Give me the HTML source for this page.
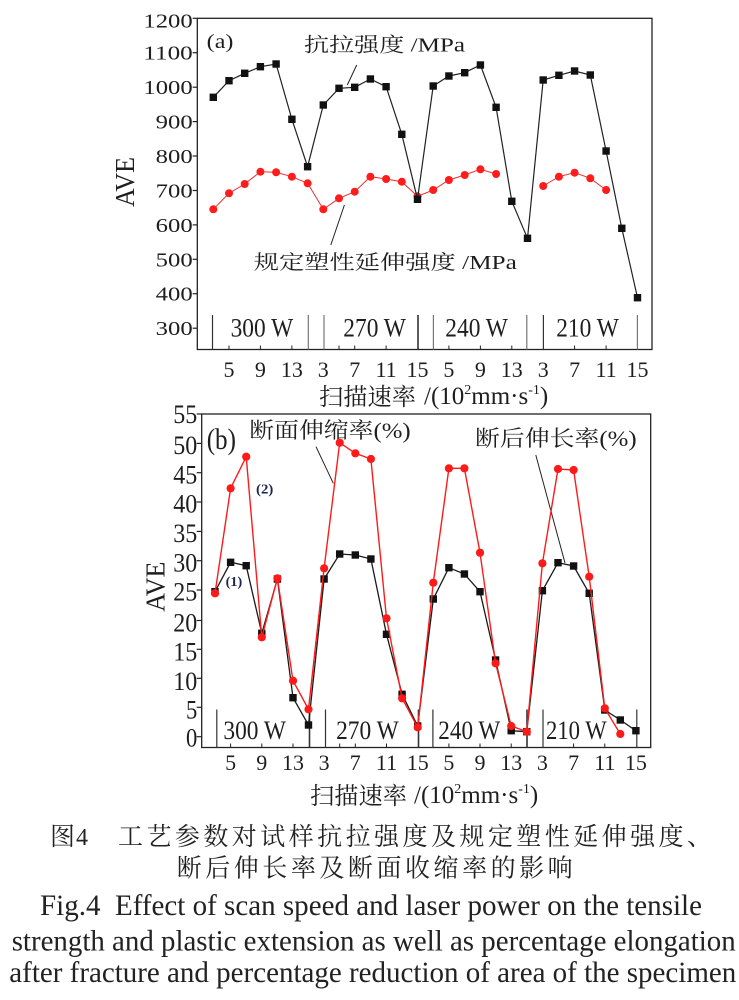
<!DOCTYPE html>
<html>
<head>
<meta charset="utf-8">
<style>
html,body{margin:0;padding:0;background:#fff;width:739px;height:1000px;overflow:hidden}
svg{display:block}
.t{font-family:"Liberation Serif","Noto Serif CJK SC",serif;fill:#1e1e1e}
.c{font-family:"Liberation Serif","Noto Serif CJK SC",serif;fill:#222}
</style>
</head>
<body>
<svg width="739" height="1000" viewBox="0 0 739 1000" xmlns="http://www.w3.org/2000/svg">
<rect x="0" y="0" width="739" height="1000" fill="#fff"/>

<!-- ================= (a) ================= -->
<rect x="197.3" y="18.3" width="454.7" height="331.2" fill="none" stroke="#222" stroke-width="1.3"/>
<g stroke="#222" stroke-width="1.2">
<line x1="192.7" y1="18.3" x2="197.3" y2="18.3"/>
<line x1="192.7" y1="52.7" x2="197.3" y2="52.7"/>
<line x1="192.7" y1="87.2" x2="197.3" y2="87.2"/>
<line x1="192.7" y1="121.6" x2="197.3" y2="121.6"/>
<line x1="192.7" y1="156.0" x2="197.3" y2="156.0"/>
<line x1="192.7" y1="190.5" x2="197.3" y2="190.5"/>
<line x1="192.7" y1="224.9" x2="197.3" y2="224.9"/>
<line x1="192.7" y1="259.3" x2="197.3" y2="259.3"/>
<line x1="192.7" y1="293.7" x2="197.3" y2="293.7"/>
<line x1="192.7" y1="328.2" x2="197.3" y2="328.2"/>
</g>
<g class="t" font-family="Liberation Serif, serif" font-size="20">
<text x="143.4" y="27.3" textLength="49.3" lengthAdjust="spacingAndGlyphs">1200</text>
<text x="143.4" y="59.7" textLength="49.3" lengthAdjust="spacingAndGlyphs">1100</text>
<text x="143.4" y="94.2" textLength="49.3" lengthAdjust="spacingAndGlyphs">1000</text>
<text x="155.7" y="128.6" textLength="37" lengthAdjust="spacingAndGlyphs">900</text>
<text x="155.7" y="163.0" textLength="37" lengthAdjust="spacingAndGlyphs">800</text>
<text x="155.7" y="197.5" textLength="37" lengthAdjust="spacingAndGlyphs">700</text>
<text x="155.7" y="231.9" textLength="37" lengthAdjust="spacingAndGlyphs">600</text>
<text x="155.7" y="266.3" textLength="37" lengthAdjust="spacingAndGlyphs">500</text>
<text x="155.7" y="300.7" textLength="37" lengthAdjust="spacingAndGlyphs">400</text>
<text x="155.7" y="335.2" textLength="37" lengthAdjust="spacingAndGlyphs">300</text>
</g>
<g stroke="#222" stroke-width="1">
<line x1="229.0" y1="349.5" x2="229.0" y2="345.5"/><line x1="260.4" y1="349.5" x2="260.4" y2="345.5"/>
<line x1="291.9" y1="349.5" x2="291.9" y2="345.5"/><line x1="339.0" y1="349.5" x2="339.0" y2="345.5"/>
<line x1="354.7" y1="349.5" x2="354.7" y2="345.5"/><line x1="386.1" y1="349.5" x2="386.1" y2="345.5"/>
<line x1="448.9" y1="349.5" x2="448.9" y2="345.5"/><line x1="480.4" y1="349.5" x2="480.4" y2="345.5"/>
<line x1="511.8" y1="349.5" x2="511.8" y2="345.5"/><line x1="574.6" y1="349.5" x2="574.6" y2="345.5"/>
<line x1="606.1" y1="349.5" x2="606.1" y2="345.5"/>
</g>
<g stroke="#333" stroke-width="1.2">
<line x1="212.5" y1="315" x2="212.5" y2="349.5"/>
<line x1="308.3" y1="315" x2="308.3" y2="349.5" stroke="#777"/>
<line x1="324" y1="315" x2="324" y2="349.5" stroke="#777"/>
<line x1="418" y1="315" x2="418" y2="349.5" stroke-width="1.6"/>
<line x1="433.4" y1="315" x2="433.4" y2="349.5" stroke="#777"/>
<line x1="526.8" y1="315" x2="526.8" y2="349.5" stroke="#777"/>
<line x1="543.4" y1="315" x2="543.4" y2="349.5"/>
<line x1="637.4" y1="315" x2="637.4" y2="349.5" stroke="#777"/>
</g>
<g class="t" font-family="Liberation Serif, serif" font-size="26">
<text x="230.6" y="336.5" textLength="62.6" lengthAdjust="spacingAndGlyphs">300 W</text>
<text x="343.3" y="336.5" textLength="62.6" lengthAdjust="spacingAndGlyphs">270 W</text>
<text x="445.3" y="336.5" textLength="62.6" lengthAdjust="spacingAndGlyphs">240 W</text>
<text x="556.2" y="336.5" textLength="62.6" lengthAdjust="spacingAndGlyphs">210 W</text>
</g>
<g class="t" font-family="Liberation Serif, serif" font-size="22" text-anchor="middle">
<text x="229.0" y="377">5</text><text x="260.4" y="377">9</text><text x="291.9" y="377">13</text>
<text x="323.3" y="377">3</text><text x="354.7" y="377">7</text><text x="386.1" y="377">11</text>
<text x="417.5" y="377">15</text><text x="448.9" y="377">5</text><text x="480.4" y="377">9</text>
<text x="511.8" y="377">13</text><text x="543.2" y="377">3</text><text x="574.6" y="377">7</text>
<text x="606.1" y="377">11</text><text x="637.5" y="377">15</text>
</g>
<text class="t" x="319" y="405" font-size="24" textLength="97" lengthAdjust="spacingAndGlyphs">扫描速率</text>
<text class="t" font-family="Liberation Serif, serif" x="424" y="404" font-size="25">/(10<tspan font-size="14" dy="-10">2</tspan><tspan dy="10">mm·s</tspan><tspan font-size="14" dy="-10">-1</tspan><tspan dy="10">)</tspan></text>
<text class="t" font-family="Liberation Serif, serif" font-size="27" text-anchor="middle" transform="translate(134,182) rotate(-90)" textLength="50" lengthAdjust="spacingAndGlyphs">AVE</text>

<text class="t" x="206.7" y="48" font-size="20" textLength="26.7" lengthAdjust="spacingAndGlyphs">(a)</text>
<text class="t" x="304" y="51.5" font-size="20" textLength="161" lengthAdjust="spacingAndGlyphs">抗拉强度 /MPa</text>
<text class="t" x="253.8" y="269" font-size="20" textLength="263" lengthAdjust="spacingAndGlyphs">规定塑性延伸强度 /MPa</text>
<line x1="356.7" y1="65" x2="347.3" y2="85" stroke="#222" stroke-width="1"/>
<line x1="344.4" y1="205" x2="330.8" y2="245" stroke="#222" stroke-width="1"/>

<g fill="none" stroke="#ee3030" stroke-width="1">
<polyline points="213.3,209.3 229.0,193.3 244.7,184 260.4,171.7 276.1,172.3 291.9,176.7 307.6,183.3 323.3,209.3 339.0,198.3 354.7,191.7 370.4,176.7 386.1,179 401.8,181.7 417.5,196.3 433.2,190 448.9,180 464.7,175 480.4,169.3 496.1,174"/>
<polyline points="543.2,186 558.9,176.7 574.6,172.7 590.3,178.3 606.1,190"/>
</g>
<g fill="#ff1c1c">
<circle cx="213.3" cy="209.3" r="4"/><circle cx="229.0" cy="193.3" r="4"/><circle cx="244.7" cy="184" r="4"/>
<circle cx="260.4" cy="171.7" r="4"/><circle cx="276.1" cy="172.3" r="4"/><circle cx="291.9" cy="176.7" r="4"/>
<circle cx="307.6" cy="183.3" r="4"/><circle cx="323.3" cy="209.3" r="4"/><circle cx="339.0" cy="198.3" r="4"/>
<circle cx="354.7" cy="191.7" r="4"/><circle cx="370.4" cy="176.7" r="4"/><circle cx="386.1" cy="179" r="4"/>
<circle cx="401.8" cy="181.7" r="4"/><circle cx="417.5" cy="196.3" r="4"/><circle cx="433.2" cy="190" r="4"/>
<circle cx="448.9" cy="180" r="4"/><circle cx="464.7" cy="175" r="4"/><circle cx="480.4" cy="169.3" r="4"/>
<circle cx="496.1" cy="174" r="4"/>
<circle cx="543.2" cy="186" r="4"/><circle cx="558.9" cy="176.7" r="4"/><circle cx="574.6" cy="172.7" r="4"/>
<circle cx="590.3" cy="178.3" r="4"/><circle cx="606.1" cy="190" r="4"/>
</g>
<polyline fill="none" stroke="#222" stroke-width="1.2" points="213.3,97.3 229.0,80.7 244.7,73.3 260.4,66.7 276.1,64 291.9,119.3 307.6,166.7 323.3,105 339.0,88.3 354.7,87.3 370.4,79 386.1,86.7 401.8,134.3 417.5,199.3 433.2,86 448.9,76 464.7,72.7 480.4,65 496.1,107.3 511.8,201.3 527.5,238.3 543.2,80 558.9,75.3 574.6,71 590.3,75 606.1,151 621.8,228.3 637.5,297.7"/>
<g fill="#111">
<rect x="209.6" y="93.6" width="7.4" height="7.4"/><rect x="225.3" y="77" width="7.4" height="7.4"/>
<rect x="241.0" y="69.6" width="7.4" height="7.4"/><rect x="256.7" y="63" width="7.4" height="7.4"/>
<rect x="272.4" y="60.3" width="7.4" height="7.4"/><rect x="288.2" y="115.6" width="7.4" height="7.4"/>
<rect x="303.9" y="163" width="7.4" height="7.4"/><rect x="319.6" y="101.3" width="7.4" height="7.4"/>
<rect x="335.3" y="84.6" width="7.4" height="7.4"/><rect x="351.0" y="83.6" width="7.4" height="7.4"/>
<rect x="366.7" y="75.3" width="7.4" height="7.4"/><rect x="382.4" y="83" width="7.4" height="7.4"/>
<rect x="398.1" y="130.6" width="7.4" height="7.4"/><rect x="413.8" y="195.6" width="7.4" height="7.4"/>
<rect x="429.5" y="82.3" width="7.4" height="7.4"/><rect x="445.2" y="72.3" width="7.4" height="7.4"/>
<rect x="461.0" y="69" width="7.4" height="7.4"/><rect x="476.7" y="61.3" width="7.4" height="7.4"/>
<rect x="492.4" y="103.6" width="7.4" height="7.4"/><rect x="508.1" y="197.6" width="7.4" height="7.4"/>
<rect x="523.8" y="234.6" width="7.4" height="7.4"/><rect x="539.5" y="76.3" width="7.4" height="7.4"/>
<rect x="555.2" y="71.6" width="7.4" height="7.4"/><rect x="570.9" y="67.3" width="7.4" height="7.4"/>
<rect x="586.6" y="71.3" width="7.4" height="7.4"/><rect x="602.4" y="147.3" width="7.4" height="7.4"/>
<rect x="618.1" y="224.6" width="7.4" height="7.4"/><rect x="633.8" y="294" width="7.4" height="7.4"/>
</g>

<!-- ================= (b) ================= -->
<rect x="201.7" y="414" width="449" height="333.5" fill="none" stroke="#222" stroke-width="1.3"/>
<g stroke="#222" stroke-width="1.2">
<line x1="196.7" y1="414" x2="201.7" y2="414"/>
<line x1="196.7" y1="443.4" x2="201.7" y2="443.4"/>
<line x1="196.7" y1="472.7" x2="201.7" y2="472.7"/>
<line x1="196.7" y1="502" x2="201.7" y2="502"/>
<line x1="196.7" y1="531.4" x2="201.7" y2="531.4"/>
<line x1="196.7" y1="560.7" x2="201.7" y2="560.7"/>
<line x1="196.7" y1="590" x2="201.7" y2="590"/>
<line x1="196.7" y1="620.5" x2="201.7" y2="620.5"/>
<line x1="196.7" y1="649.3" x2="201.7" y2="649.3"/>
<line x1="196.7" y1="678.3" x2="201.7" y2="678.3"/>
<line x1="196.7" y1="707.3" x2="201.7" y2="707.3"/>
<line x1="196.7" y1="736.7" x2="201.7" y2="736.7"/>
</g>
<g class="t" font-family="Liberation Serif, serif" font-size="26">
<text x="173.3" y="423" textLength="24" lengthAdjust="spacingAndGlyphs">55</text>
<text x="173.3" y="454" textLength="24" lengthAdjust="spacingAndGlyphs">50</text>
<text x="173.3" y="483.4" textLength="24" lengthAdjust="spacingAndGlyphs">45</text>
<text x="173.3" y="512.7" textLength="24" lengthAdjust="spacingAndGlyphs">40</text>
<text x="173.3" y="542.1" textLength="24" lengthAdjust="spacingAndGlyphs">35</text>
<text x="173.3" y="571.4" textLength="24" lengthAdjust="spacingAndGlyphs">30</text>
<text x="173.3" y="600.7" textLength="24" lengthAdjust="spacingAndGlyphs">25</text>
<text x="173.3" y="631.5" textLength="24" lengthAdjust="spacingAndGlyphs">20</text>
<text x="173.3" y="660.5" textLength="24" lengthAdjust="spacingAndGlyphs">15</text>
<text x="173.3" y="689.8" textLength="24" lengthAdjust="spacingAndGlyphs">10</text>
<text x="186" y="718.3" textLength="11.3" lengthAdjust="spacingAndGlyphs">5</text>
<text x="186" y="746.7" textLength="11.3" lengthAdjust="spacingAndGlyphs">0</text>
</g>
<g stroke="#222" stroke-width="1">
<line x1="230.6" y1="747.5" x2="230.6" y2="743.5"/><line x1="261.8" y1="747.5" x2="261.8" y2="743.5"/>
<line x1="293.0" y1="747.5" x2="293.0" y2="743.5"/><line x1="339.7" y1="747.5" x2="339.7" y2="743.5"/>
<line x1="355.3" y1="747.5" x2="355.3" y2="743.5"/><line x1="386.5" y1="747.5" x2="386.5" y2="743.5"/>
<line x1="448.9" y1="747.5" x2="448.9" y2="743.5"/><line x1="480.0" y1="747.5" x2="480.0" y2="743.5"/>
<line x1="511.2" y1="747.5" x2="511.2" y2="743.5"/><line x1="573.6" y1="747.5" x2="573.6" y2="743.5"/>
<line x1="604.8" y1="747.5" x2="604.8" y2="743.5"/>
</g>
<g stroke="#333" stroke-width="1.2">
<line x1="216.8" y1="709.5" x2="216.8" y2="747.5"/>
<line x1="309.5" y1="709.5" x2="309.5" y2="747.5" stroke-width="1.6"/>
<line x1="325.5" y1="709.5" x2="325.5" y2="747.5"/>
<line x1="418.5" y1="709.5" x2="418.5" y2="747.5" stroke-width="1.6"/>
<line x1="432.9" y1="709.5" x2="432.9" y2="747.5"/>
<line x1="527" y1="709.5" x2="527" y2="747.5" stroke-width="1.6"/>
<line x1="543" y1="709.5" x2="543" y2="747.5"/>
<line x1="636.8" y1="709.5" x2="636.8" y2="747.5"/>
</g>
<g class="t" font-family="Liberation Serif, serif" font-size="26">
<text x="223.4" y="739" textLength="62.6" lengthAdjust="spacingAndGlyphs">300 W</text>
<text x="336.1" y="739" textLength="62.6" lengthAdjust="spacingAndGlyphs">270 W</text>
<text x="438.3" y="739" textLength="62" lengthAdjust="spacingAndGlyphs">240 W</text>
<text x="546" y="739" textLength="60.7" lengthAdjust="spacingAndGlyphs">210 W</text>
</g>
<g class="t" font-family="Liberation Serif, serif" font-size="22" text-anchor="middle">
<text x="230.6" y="770">5</text><text x="261.8" y="770">9</text><text x="293.0" y="770">13</text>
<text x="324.1" y="770">3</text><text x="355.3" y="770">7</text><text x="386.5" y="770">11</text>
<text x="417.7" y="770">15</text><text x="448.9" y="770">5</text><text x="480.0" y="770">9</text>
<text x="511.2" y="770">13</text><text x="542.4" y="770">3</text><text x="573.6" y="770">7</text>
<text x="604.8" y="770">11</text><text x="635.9" y="770">15</text>
</g>
<text class="t" x="310" y="804" font-size="24" textLength="97" lengthAdjust="spacingAndGlyphs">扫描速率</text>
<text class="t" font-family="Liberation Serif, serif" x="414" y="803" font-size="25">/(10<tspan font-size="14" dy="-10">2</tspan><tspan dy="10">mm·s</tspan><tspan font-size="14" dy="-10">-1</tspan><tspan dy="10">)</tspan></text>
<text class="t" font-family="Liberation Serif, serif" font-size="27" text-anchor="middle" transform="translate(164.4,586.7) rotate(-90)" textLength="50" lengthAdjust="spacingAndGlyphs">AVE</text>

<text class="t" x="206.7" y="449" font-size="30" textLength="29.3" lengthAdjust="spacingAndGlyphs">(b)</text>
<text class="t" x="249.3" y="438" font-size="22" textLength="161.4" lengthAdjust="spacingAndGlyphs">断面伸缩率(%)</text>
<text class="t" x="475" y="446" font-size="22" textLength="161.7" lengthAdjust="spacingAndGlyphs">断后伸长率(%)</text>
<line x1="316" y1="446.7" x2="333.3" y2="483.3" stroke="#222" stroke-width="1"/>
<line x1="535.8" y1="455" x2="565" y2="563" stroke="#222" stroke-width="1"/>
<text x="256" y="493.5" font-family="Liberation Serif, serif" font-weight="bold" font-size="14" fill="#1a2550" textLength="17.3" lengthAdjust="spacingAndGlyphs">(2)</text>
<text x="225.7" y="586" font-family="Liberation Serif, serif" font-weight="bold" font-size="14" fill="#1a2550" textLength="16.6" lengthAdjust="spacingAndGlyphs">(1)</text>

<polyline fill="none" stroke="#1a1a1a" stroke-width="1.3" points="215.0,591.7 230.6,562.3 246.2,565.7 261.8,633.3 277.4,579 293.0,697.7 308.5,725 324.1,579 339.7,554 355.3,555 370.9,559 386.5,634.3 402.1,694.3 417.7,726 433.3,599 448.9,567.7 464.4,574 480.0,591.7 495.6,660 511.2,730.7 526.8,731.7 542.4,590.7 558.0,562.7 573.6,566 589.2,593.3 604.8,710 620.3,720 635.9,730.7"/>
<g fill="#111">
<rect x="211.3" y="588" width="7.4" height="7.4"/><rect x="226.9" y="558.6" width="7.4" height="7.4"/>
<rect x="242.5" y="562" width="7.4" height="7.4"/><rect x="258.1" y="629.6" width="7.4" height="7.4"/>
<rect x="273.7" y="575.3" width="7.4" height="7.4"/><rect x="289.3" y="694" width="7.4" height="7.4"/>
<rect x="304.8" y="721.3" width="7.4" height="7.4"/><rect x="320.4" y="575.3" width="7.4" height="7.4"/>
<rect x="336.0" y="550.3" width="7.4" height="7.4"/><rect x="351.6" y="551.3" width="7.4" height="7.4"/>
<rect x="367.2" y="555.3" width="7.4" height="7.4"/><rect x="382.8" y="630.6" width="7.4" height="7.4"/>
<rect x="398.4" y="690.6" width="7.4" height="7.4"/><rect x="414.0" y="722.3" width="7.4" height="7.4"/>
<rect x="429.6" y="595.3" width="7.4" height="7.4"/><rect x="445.2" y="564" width="7.4" height="7.4"/>
<rect x="460.7" y="570.3" width="7.4" height="7.4"/><rect x="476.3" y="588" width="7.4" height="7.4"/>
<rect x="491.9" y="656.3" width="7.4" height="7.4"/><rect x="507.5" y="727" width="7.4" height="7.4"/>
<rect x="523.1" y="728" width="7.4" height="7.4"/><rect x="538.7" y="587" width="7.4" height="7.4"/>
<rect x="554.3" y="559" width="7.4" height="7.4"/><rect x="569.9" y="562.3" width="7.4" height="7.4"/>
<rect x="585.5" y="589.6" width="7.4" height="7.4"/><rect x="601.1" y="706.3" width="7.4" height="7.4"/>
<rect x="616.6" y="716.3" width="7.4" height="7.4"/><rect x="632.2" y="727" width="7.4" height="7.4"/>
</g>
<polyline fill="none" stroke="#ff1a1a" stroke-width="1.4" points="215.0,593.3 230.6,488.3 246.2,456.7 261.8,637.3 277.4,578.3 293.0,680.7 308.5,709.3 324.1,568.3 339.7,442.7 355.3,453.3 370.9,459 386.5,618.3 402.1,698.3 417.7,727.3 433.3,582.7 448.9,468.3 464.4,468.3 480.0,552.7 495.6,663.3 511.2,726 526.8,731.7 542.4,563.3 558.0,469 573.6,470 589.2,576.7 604.8,708.3 620.3,734"/>
<g fill="#ff1a1a">
<circle cx="215.0" cy="593.3" r="4.1"/><circle cx="230.6" cy="488.3" r="4.1"/><circle cx="246.2" cy="456.7" r="4.1"/>
<circle cx="261.8" cy="637.3" r="4.1"/><circle cx="277.4" cy="578.3" r="4.1"/><circle cx="293.0" cy="680.7" r="4.1"/>
<circle cx="308.5" cy="709.3" r="4.1"/><circle cx="324.1" cy="568.3" r="4.1"/><circle cx="339.7" cy="442.7" r="4.1"/>
<circle cx="355.3" cy="453.3" r="4.1"/><circle cx="370.9" cy="459" r="4.1"/><circle cx="386.5" cy="618.3" r="4.1"/>
<circle cx="402.1" cy="698.3" r="4.1"/><circle cx="417.7" cy="727.3" r="4.1"/><circle cx="433.3" cy="582.7" r="4.1"/>
<circle cx="448.9" cy="468.3" r="4.1"/><circle cx="464.4" cy="468.3" r="4.1"/><circle cx="480.0" cy="552.7" r="4.1"/>
<circle cx="495.6" cy="663.3" r="4.1"/><circle cx="511.2" cy="726" r="4.1"/><circle cx="526.8" cy="731.7" r="4.1"/>
<circle cx="542.4" cy="563.3" r="4.1"/><circle cx="558.0" cy="469" r="4.1"/><circle cx="573.6" cy="470" r="4.1"/>
<circle cx="589.2" cy="576.7" r="4.1"/><circle cx="604.8" cy="708.3" r="4.1"/><circle cx="620.3" cy="734" r="4.1"/>
</g>

<!-- ================= caption ================= -->
<text class="c" x="50" y="845" font-size="25">图</text>
<text class="c" font-family="Liberation Serif, serif" x="76" y="845" font-size="24">4</text>
<text class="c" x="118" y="845" font-size="25" textLength="594" lengthAdjust="spacing">工艺参数对试样抗拉强度及规定塑性延伸强度、</text>
<text class="c" x="176.7" y="876.5" font-size="25" textLength="396" lengthAdjust="spacing">断后伸长率及断面收缩率的影响</text>
<text class="c" font-family="Liberation Serif, serif" x="40" y="915" font-size="30" textLength="662" lengthAdjust="spacingAndGlyphs">Fig.4&#160; Effect of scan speed and laser power on the tensile</text>
<text class="c" font-family="Liberation Serif, serif" x="11.7" y="950.5" font-size="30" textLength="724" lengthAdjust="spacingAndGlyphs">strength and plastic extension as well as percentage elongation</text>
<text class="c" font-family="Liberation Serif, serif" x="9.3" y="982" font-size="30" textLength="727" lengthAdjust="spacingAndGlyphs">after fracture and percentage reduction of area of the specimen</text>
</svg>
</body>
</html>
